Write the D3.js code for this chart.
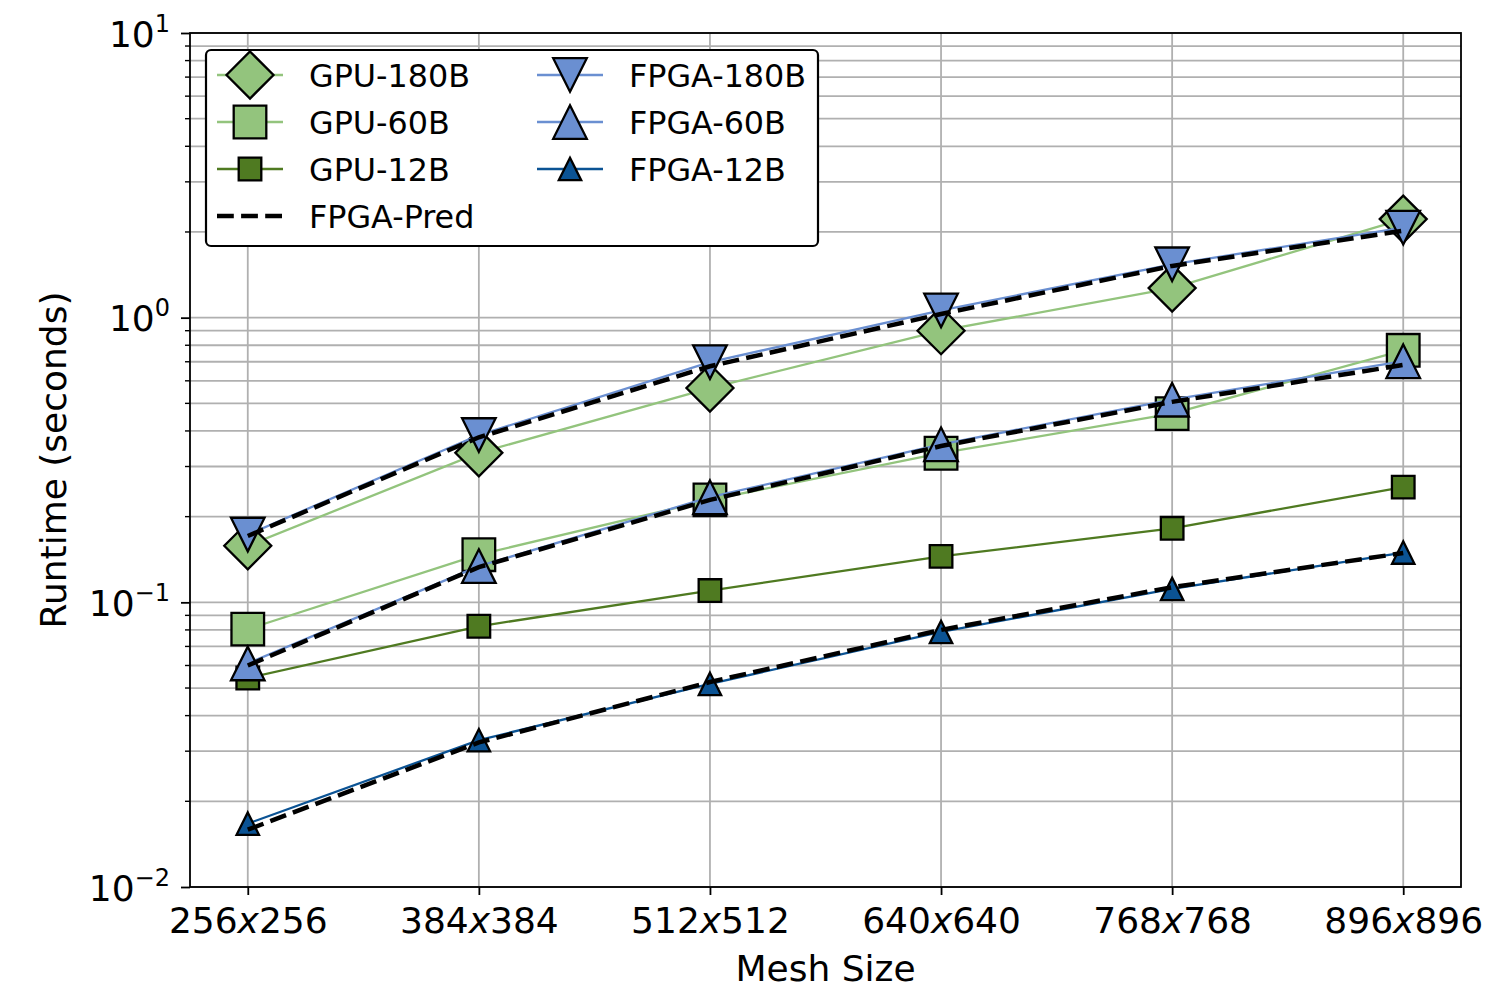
<!DOCTYPE html>
<html>
<head>
<meta charset="utf-8">
<script src="https://cdn.jsdelivr.net/npm/d3@7"></script>
<style>
  html, body { margin: 0; padding: 0; background: #fff; }
  svg { display: block; font-family: "DejaVu Sans", sans-serif; }
</style>
</head>
<body>
<svg id="chart" width="1496" height="989"></svg>
<script>
// ---- data ----
const meshSizes = [256, 384, 512, 640, 768, 896];
const categories = ["256", "384", "512", "640", "768", "896"];
const gpu180 = [0.158, 0.335, 0.566, 0.90, 1.27, 2.22];
const gpu60 = [0.0805, 0.147, 0.229, 0.334, 0.46, 0.768];
const gpu12 = [0.0542, 0.0824, 0.110, 0.145, 0.182, 0.254];
const fpga180 = [0.173, 0.387, 0.698, 1.06, 1.54, 2.07];
const fpga60 = [0.061, 0.134, 0.234, 0.359, 0.515, 0.703];
const fpga12 = [0.0167, 0.0328, 0.0517, 0.0787, 0.1114, 0.1496];
const pred180 = [0.171, 0.38, 0.675, 1.03, 1.52, 2.02];
const pred60 = [0.060, 0.133, 0.229, 0.354, 0.506, 0.682];
const pred12 = [0.0159, 0.0322, 0.0525, 0.080, 0.113, 0.149];
const yMajorExps = [-2, -1, 0, 1];

// ---- styles ----
const C = {
  lightGreen: "#93c47d",
  darkGreen: "#4f7a21",
  blue: "#6a8fd1",
  darkBlue: "#0b5394"
};

const series = [
  { name: "GPU-180B", values: gpu180, color: C.lightGreen, shape: "diamond", size: 23.5 },
  { name: "GPU-60B", values: gpu60, color: C.lightGreen, shape: "square", size: 16.3 },
  { name: "GPU-12B", values: gpu12, color: C.darkGreen, shape: "square", size: 11.3 },
  { name: "FPGA-180B", values: fpga180, color: C.blue, shape: "tridown", size: 16.8 },
  { name: "FPGA-60B", values: fpga60, color: C.blue, shape: "triup", size: 16.8 },
  { name: "FPGA-12B", values: fpga12, color: C.darkBlue, shape: "triup", size: 11.2 }
];
const predSeries = [pred180, pred60, pred12];

const svg = d3.select("#chart");
const L = 190, R = 1461, T = 33, B = 887;

const pad = 0.05 * (d3.max(meshSizes) - d3.min(meshSizes));
const x = d3.scaleLinear().domain([d3.min(meshSizes) - pad, d3.max(meshSizes) + pad]).range([L, R]);
const y = d3.scaleLog().domain([0.01, 10]).range([B, T]);

function markerPath(shape, s) {
  switch (shape) {
    case "diamond": return `M0,${-s}L${s},0L0,${s}L${-s},0Z`;
    case "square": return `M${-s},${-s}L${s},${-s}L${s},${s}L${-s},${s}Z`;
    case "triup": return `M0,${-s}L${s},${s}L${-s},${s}Z`;
    case "tridown": return `M0,${s}L${s},${-s}L${-s},${-s}Z`;
  }
}

// ---- grid ----
const grid = svg.append("g");
const minorVals = [];
for (let e = -2; e < 1; e++) for (let m = 1; m <= 9; m++) minorVals.push(m * Math.pow(10, e));
minorVals.push(10);
grid.selectAll("line.hy").data(minorVals).enter().append("line")
  .attr("x1", L).attr("x2", R).attr("y1", d => y(d)).attr("y2", d => y(d))
  .attr("stroke", "#b0b0b0").attr("stroke-width", 1.8);
grid.selectAll("line.vx").data(meshSizes).enter().append("line")
  .attr("y1", T).attr("y2", B).attr("x1", d => x(d)).attr("x2", d => x(d))
  .attr("stroke", "#b0b0b0").attr("stroke-width", 1.8);

// ---- data series ----
const line = d3.line().x((d, i) => x(meshSizes[i])).y(d => y(d));
const plot = svg.append("g");
series.forEach(s => {
  plot.append("path").datum(s.values).attr("d", line)
    .attr("fill", "none").attr("stroke", s.color).attr("stroke-width", 2.3);
  plot.selectAll(null).data(s.values).enter().append("path")
    .attr("transform", (d, i) => `translate(${x(meshSizes[i])},${y(d)})`)
    .attr("d", markerPath(s.shape, s.size))
    .attr("fill", s.color).attr("stroke", "#000").attr("stroke-width", 2.3)
    .attr("stroke-linejoin", "miter");
});
predSeries.forEach(p => {
  plot.append("path").datum(p).attr("d", line)
    .attr("fill", "none").attr("stroke", "#000").attr("stroke-width", 4.5)
    .attr("stroke-dasharray", "16.8,7.3");
});

// ---- axes ----
const xAxis = d3.axisBottom(x).tickValues(meshSizes).tickSize(8).tickPadding(9).tickFormat(() => "");
const gx = svg.append("g").attr("transform", `translate(0,${B})`).call(xAxis);
gx.select(".domain").remove();
gx.selectAll(".tick line").attr("stroke", "#000").attr("stroke-width", 1.8);
gx.selectAll(".tick").each(function (d, i) {
  const t = d3.select(this).append("text").attr("y", 46).attr("text-anchor", "middle")
    .attr("fill", "#000").attr("font-size", 36).attr("font-family", "DejaVu Sans");
  t.append("tspan").text(categories[i]);
  t.append("tspan").attr("font-style", "italic").text("x");
  t.append("tspan").text(categories[i]);
});

const yAxis = d3.axisLeft(y).tickValues(yMajorExps.map(e => Math.pow(10, e))).tickSize(9).tickFormat(() => "");
const gy = svg.append("g").attr("transform", `translate(${L},0)`).call(yAxis);
gy.select(".domain").remove();
gy.selectAll(".tick line").attr("stroke", "#000").attr("stroke-width", 1.8);
gy.selectAll(".tick").each(function (d, i) {
  const e = yMajorExps[i];
  const t = d3.select(this).append("text").attr("x", -20).attr("y", 13).attr("text-anchor", "end")
    .attr("fill", "#000").attr("font-size", 36).attr("font-family", "DejaVu Sans");
  t.append("tspan").text("10");
  t.append("tspan").attr("font-size", 24).attr("dy", -15).text(e < 0 ? "\u2212" + (-e) : String(e));
});
// minor ticks
const minorTicks = minorVals.filter(v => Math.abs(Math.log10(v) - Math.round(Math.log10(v))) > 1e-9);
svg.append("g").selectAll("line").data(minorTicks).enter().append("line")
  .attr("x1", L - 5).attr("x2", L).attr("y1", d => y(d)).attr("y2", d => y(d))
  .attr("stroke", "#000").attr("stroke-width", 1.4);

// frame
svg.append("rect").attr("x", L).attr("y", T).attr("width", R - L).attr("height", B - T)
  .attr("fill", "none").attr("stroke", "#000").attr("stroke-width", 1.8);

// axis labels
svg.append("text").attr("x", (L + R) / 2).attr("y", 981).attr("text-anchor", "middle")
  .attr("font-size", 36).attr("fill", "#000").text("Mesh Size");
svg.append("text").attr("transform", `translate(66,${(T + B) / 2}) rotate(-90)`).attr("text-anchor", "middle")
  .attr("font-size", 36).attr("fill", "#000").text("Runtime (seconds)");

// ---- legend ----
const lg = svg.append("g");
lg.append("rect").attr("x", 206).attr("y", 50).attr("width", 612).attr("height", 196)
  .attr("rx", 5).attr("fill", "#fff").attr("stroke", "#000").attr("stroke-width", 2.2);
const legendItems = [
  { s: series[0], col: 0, row: 0 }, { s: series[1], col: 0, row: 1 }, { s: series[2], col: 0, row: 2 },
  { s: null, col: 0, row: 3, name: "FPGA-Pred" },
  { s: series[3], col: 1, row: 0 }, { s: series[4], col: 1, row: 1 }, { s: series[5], col: 1, row: 2 }
];
const colX = [217, 537];
legendItems.forEach(it => {
  const lx = colX[it.col], ly = 75 + it.row * 47;
  if (it.s) {
    lg.append("line").attr("x1", lx).attr("x2", lx + 66).attr("y1", ly).attr("y2", ly)
      .attr("stroke", it.s.color).attr("stroke-width", 2.3);
    lg.append("path").attr("transform", `translate(${lx + 33},${ly})`).attr("d", markerPath(it.s.shape, it.s.size))
      .attr("fill", it.s.color).attr("stroke", "#000").attr("stroke-width", 2.3);
  } else {
    lg.append("line").attr("x1", lx).attr("x2", lx + 66).attr("y1", ly).attr("y2", ly)
      .attr("stroke", "#000").attr("stroke-width", 4.5).attr("stroke-dasharray", "16.8,7.3");
  }
  lg.append("text").attr("x", lx + 92).attr("y", ly + 11.5).attr("font-size", 31.8).attr("fill", "#000")
    .text(it.s ? it.s.name : it.name);
});
</script>
</body>
</html>
